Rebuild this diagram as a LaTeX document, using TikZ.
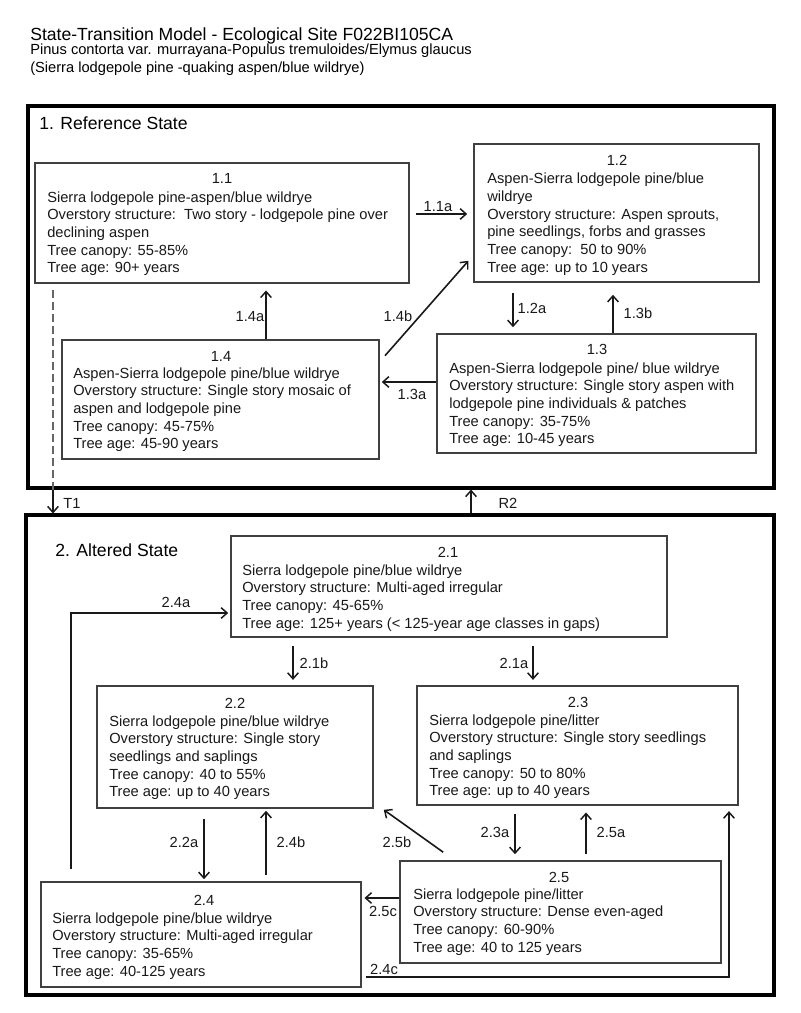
\documentclass[tikz,border=0pt]{standalone}
\usepackage{fontspec}
\setmainfont{Liberation Sans}
\usetikzlibrary{arrows.meta,calc}
\newcommand{\bodyfont}{\fontsize{11}{13.25}\selectfont}
\tikzset{
  stbox/.style={draw=black!75, line width=1.2pt, inner sep=0pt, fill=white},
  outerbox/.style={draw=black, line width=2.3pt, inner sep=0pt},
  txt/.style={anchor=base west, inner sep=0pt, align=left, font=\bodyfont, text=black!90},
  head/.style={anchor=base, inner sep=0pt, font=\bodyfont, text=black!90},
  lab/.style={anchor=base, inner sep=0pt, font=\bodyfont, text=black!90},
  arr/.style={draw=black!90, line width=1.2pt, -{Straight Barb[length=4.5pt,width=8pt,line width=1.1pt]}},
}
\begin{document}
\begin{tikzpicture}[x=0.75pt,y=-0.75pt]
\useasboundingbox (0,0) rectangle (800,1013);
\fill[white] (0,0) rectangle (800,1013);
% title
\node[anchor=base west, inner sep=0pt, font=\fontsize{13.2}{15}\selectfont] (title1) at (30,40.5) {State-Transition Model - Ecological Site F022BI105CA};
\node[anchor=base west, inner sep=0pt, font=\bodyfont] (title2) at (30,55) {Pinus contorta var. murrayana-Populus tremuloides/Elymus glaucus};
\node[anchor=base west, inner sep=0pt, font=\bodyfont] (title3) at (30,72.5) {(Sierra lodgepole pine -quaking aspen/blue wildrye)};
% outer states
\node[outerbox, minimum width=746*0.75pt, minimum height=382*0.75pt] (s1) at (401,297) {};
\node[outerbox, minimum width=748*0.75pt, minimum height=480*0.75pt] (s2) at (400,755) {};
\node[anchor=base west, inner sep=0pt, font=\fontsize{13.2}{15}\selectfont] (s1t) at (39,130) {1. Reference State};
\node[anchor=base west, inner sep=0pt, font=\fontsize{13.2}{15}\selectfont] (s2t) at (55,556) {2. Altered State};
% boxes
\node[stbox, minimum width=374*0.75pt, minimum height=120*0.75pt] (b11) at (222,223) {};
\node[stbox, minimum width=285*0.75pt, minimum height=138*0.75pt] (b12) at (616.5,213) {};
\node[stbox, minimum width=319*0.75pt, minimum height=119*0.75pt] (b13) at (596.5,393.5) {};
\node[stbox, minimum width=317*0.75pt, minimum height=119*0.75pt] (b14) at (220.5,399.5) {};
\node[stbox, minimum width=436*0.75pt, minimum height=101*0.75pt] (b21) at (449,586.5) {};
\node[stbox, minimum width=276*0.75pt, minimum height=122*0.75pt] (b22) at (235,747) {};
\node[stbox, minimum width=321*0.75pt, minimum height=119*0.75pt] (b23) at (577.5,745.5) {};
\node[stbox, minimum width=320*0.75pt, minimum height=105*0.75pt] (b24) at (201,934.5) {};
\node[stbox, minimum width=321*0.75pt, minimum height=102*0.75pt] (b25) at (560.5,912) {};
% box texts (anchored at the baseline of the last line)
\node[head] (h11) at (222,184) {1.1};
\node[txt] (t11) at (47,272.7) {Sierra lodgepole pine-aspen/blue wildrye\\Overstory structure:\ \ Two story - lodgepole pine over\\declining aspen\\Tree canopy: 55-85\%\\Tree age: 90+ years};
\node[head] (h12) at (617,166) {1.2};
\node[txt] (t12) at (487,272.3) {Aspen-Sierra lodgepole pine/blue\\wildrye\\Overstory structure: Aspen sprouts,\\pine seedlings, forbs and grasses\\Tree canopy:\ \ 50 to 90\%\\Tree age: up to 10 years};
\node[head] (h13) at (597,354) {1.3};
\node[txt] (t13) at (449,443.7) {Aspen-Sierra lodgepole pine/ blue wildrye\\Overstory structure: Single story aspen with\\lodgepole pine individuals \& patches\\Tree canopy: 35-75\%\\Tree age: 10-45 years};
\node[head] (h14) at (221,361) {1.4};
\node[txt] (t14) at (73,448.7) {Aspen-Sierra lodgepole pine/blue wildrye\\Overstory structure: Single story mosaic of\\aspen and lodgepole pine\\Tree canopy: 45-75\%\\Tree age: 45-90 years};
\node[head] (h21) at (448,557) {2.1};
\node[txt] (t21) at (242,628) {Sierra lodgepole pine/blue wildrye\\Overstory structure: Multi-aged irregular\\Tree canopy: 45-65\%\\Tree age: 125+ years (< 125-year age classes in gaps)};
\node[head] (h22) at (235,708) {2.2};
\node[txt] (t22) at (109,796.7) {Sierra lodgepole pine/blue wildrye\\Overstory structure: Single story\\seedlings and saplings\\Tree canopy: 40 to 55\%\\Tree age: up to 40 years};
\node[head] (h23) at (578,707) {2.3};
\node[txt] (t23) at (429,795.7) {Sierra lodgepole pine/litter\\Overstory structure: Single story seedlings\\and saplings\\Tree canopy: 50 to 80\%\\Tree age: up to 40 years};
\node[head] (h24) at (204,905) {2.4};
\node[txt] (t24) at (52,976) {Sierra lodgepole pine/blue wildrye\\Overstory structure: Multi-aged irregular\\Tree canopy: 35-65\%\\Tree age: 40-125 years};
\node[head] (h25) at (559,882) {2.5};
\node[txt] (t25) at (413,952) {Sierra lodgepole pine/litter\\Overstory structure: Dense even-aged\\Tree canopy: 60-90\%\\Tree age: 40 to 125 years};
% connectors state 1
\draw[arr, shorten <=4.5pt, shorten >=4.5pt] (b11.east |- 0,214) -- (b12.west |- 0,214);
\draw[arr, shorten >=5pt] (b14.north -| 266,0) -- (b11.south -| 266,0);
\draw[arr, shorten <=2.5pt, shorten >=2pt] ($(b14.north east)+(3,19)$) -- ($(b12.south west)+(-3,-24)$);
\draw[arr, shorten >=1.5pt] (b13.west |- 0,382) -- (b14.east |- 0,382);
\draw[arr, shorten <=8pt, shorten >=4.5pt] (b12.south -| 513,0) -- (b13.north -| 513,0);
\draw[arr, shorten >=9pt] (b13.north -| 613,0) -- (b12.south -| 613,0);
% state transitions
\draw[draw=black!60, line width=1.1pt, dash pattern=on 6pt off 3pt, shorten <=5pt] (b11.south -| 53,0) -- (s1.south -| 53,0);
\draw[arr] (s1.south -| 53,0) -- (s2.north -| 53,0);
\draw[arr] (s2.north -| 471,0) -- (s1.south -| 471,0);
% connectors state 2
\draw[arr, shorten <=6pt, shorten >=4pt] (b21.south -| 293,0) -- (b22.north -| 293,0);
\draw[arr, shorten <=6pt, shorten >=4pt] (b21.south -| 533,0) -- (b23.north -| 533,0);
\draw[arr, shorten <=9pt, shorten >=1.5pt] (b24.north -| 71,0) |- (b21.west |- 0,613);
\draw[arr, shorten <=7.5pt, shorten >=1.5pt] (b22.south -| 204,0) -- (b24.north -| 204,0);
\draw[arr, shorten <=4.5pt, shorten >=1.5pt] (b24.north -| 266,0) -- (b22.south -| 266,0);
\draw[arr] ($(b25.north west)+(44,-8)$) -- ($(b22.south east)+(10,1)$);
\draw[arr, shorten <=6pt, shorten >=4.5pt] (b23.south -| 515,0) -- (b25.north -| 515,0);
\draw[arr, shorten <=4.5pt, shorten >=5pt] (b25.north -| 586,0) -- (b23.south -| 586,0);
\draw[arr, shorten >=2pt] (b25.west |- 0,898) -- (b24.east |- 0,898);
\draw[arr, shorten <=3pt, shorten >=4pt] (b24.east |- 0,977) -| (b23.south -| 729,0);
% labels
\node[lab] (l11a) at (438,211) {1.1a};
\node[lab] (l14a) at (250,321) {1.4a};
\node[lab] (l14b) at (398,321) {1.4b};
\node[lab] (l13a) at (412,399) {1.3a};
\node[lab] (l12a) at (532,313) {1.2a};
\node[lab] (l13b) at (638,318) {1.3b};
\node[lab] (lT1) at (72,508) {T1};
\node[lab] (lR2) at (508,508) {R2};
\node[lab] (l24a) at (176,607) {2.4a};
\node[lab] (l21b) at (314,668) {2.1b};
\node[lab] (l21a) at (514,668) {2.1a};
\node[lab] (l22a) at (184,847) {2.2a};
\node[lab] (l24b) at (291,847) {2.4b};
\node[lab] (l25b) at (397,847) {2.5b};
\node[lab] (l23a) at (495,837) {2.3a};
\node[lab] (l25a) at (611,837) {2.5a};
\node[lab] (l25c) at (383,916) {2.5c};
\node[lab] (l24c) at (384,974) {2.4c};
\end{tikzpicture}
\end{document}
